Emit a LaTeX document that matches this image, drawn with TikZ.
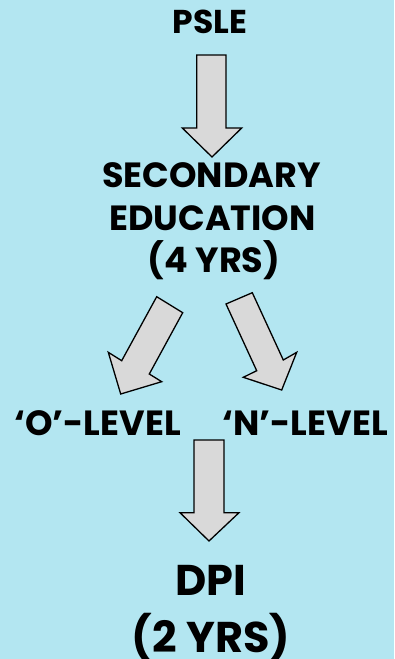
\documentclass[tikz,border=0pt]{standalone}
\usepackage{fontspec}
\setmainfont{Poppins}[BoldFont={* Bold}]
\definecolor{bgblue}{HTML}{B3E6F1}
\definecolor{arrowgray}{HTML}{D9D9D9}
\begin{document}
\begin{tikzpicture}[x=1pt,y=-1pt,
  lbl/.style={inner sep=0pt,anchor=base,font=\bfseries\fontsize{#1}{#1}\selectfont},
  bigarrow/.style={fill=arrowgray,draw=black,line width=1.3pt,line join=miter}]
\fill[bgblue] (0,0) rectangle (394,659);
\useasboundingbox (0,0) rectangle (394,659);
\node[lbl=33] (psle) at (210,33) {PSLE};
\node[lbl=35] (sec1) at (211.5,187) {SECONDARY};
\node[lbl=35] (sec2) at (212.5,230) {EDUCATION};
\node[lbl=35] (sec3) at (214,272) {(4 YRS)};
\node[lbl=35] (olev) at (97.5,435) {‘O’-LEVEL};
\node[lbl=35] (nlev) at (305,435) {‘N’-LEVEL};
\node[lbl=43] (dpi) at (211,595) {DPI};
\node[lbl=43] (dpi2) at (211,652) {(2 YRS)};
% arrows
\draw[bigarrow] (196.7,55) -- (226,55) -- (226,128) -- (241.7,128) -- (212,157) -- (182.3,128) -- (196.7,128) -- cycle;
\draw[bigarrow] (156.7,296.7) -- (182.7,312.7) -- (149.3,374) -- (161.7,381.7) -- (120.7,394) -- (108.3,352.3) -- (121.7,360.7) -- cycle;
\draw[bigarrow] (226,304) -- (252.3,292.7) -- (283.3,360) -- (296.7,352.3) -- (281.7,390) -- (243.3,377.3) -- (256.7,370.7) -- cycle;
\draw[bigarrow] (194,440) -- (224,440) -- (224,512.7) -- (239,512.7) -- (209,541) -- (180,512.7) -- (194,512.7) -- cycle;
\end{tikzpicture}
\end{document}
